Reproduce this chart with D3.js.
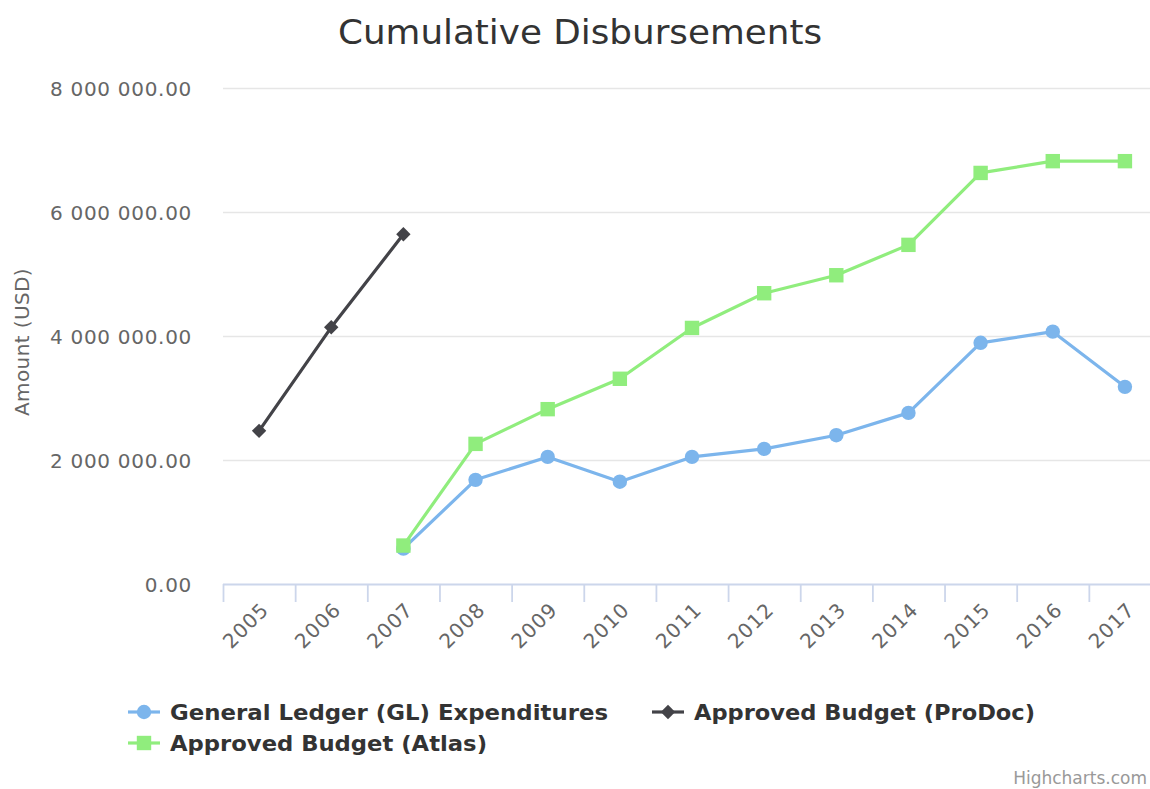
<!DOCTYPE html>
<html>
<head>
<meta charset="utf-8">
<script src="https://cdn.jsdelivr.net/npm/d3@7"></script>
<style>
  html, body { margin: 0; padding: 0; background: #fff; }
  svg { display: block; }
  text { font-family: "DejaVu Sans", Verdana, sans-serif; }
</style>
</head>
<body>
<svg id="chart" width="1150" height="789"></svg>
<script>
// ---- Data ----
const categories = ["2005","2006","2007","2008","2009","2010","2011","2012","2013","2014","2015","2016","2017"];
const glExpenditures = [null, null, 570000, 1680000, 2050000, 1650000, 2050000, 2180000, 2400000, 2760000, 3890000, 4070000, 3180000];
const budgetProDoc   = [2470000, 4140000, 5640000, null, null, null, null, null, null, null, null, null, null];
const budgetAtlas    = [null, null, 620000, 2260000, 2820000, 3310000, 4130000, 4690000, 4980000, 5470000, 6630000, 6820000, 6820000];
const yTickValues = [0, 2000000, 4000000, 6000000, 8000000];
const yTickLabels = ["0.00", "2 000 000.00", "4 000 000.00", "6 000 000.00", "8 000 000.00"];
const seriesNames = ["General Ledger (GL) Expenditures", "Approved Budget (ProDoc)", "Approved Budget (Atlas)"];
const titleText = "Cumulative Disbursements";
const yAxisTitle = "Amount (USD)";
const creditsText = "Highcharts.com";

// ---- Layout ----
const svg = d3.select("#chart");
const plot = { left: 223, right: 1161, top: 88, bottom: 584 };

const x = d3.scaleBand().domain(categories).range([plot.left, plot.right]).paddingInner(0).paddingOuter(0);
const y = d3.scaleLinear().domain([0, 8000000]).range([plot.bottom, plot.top]);
const cx = c => x(c) + x.bandwidth() / 2;

// Title
svg.append("text")
  .attr("x", 580).attr("y", 44)
  .attr("text-anchor", "middle")
  .attr("fill", "#333333")
  .style("font-size", "33px")
  .attr("textLength", 484).attr("lengthAdjust", "spacingAndGlyphs")
  .text(titleText);

// Gridlines
svg.append("g").selectAll("line").data(yTickValues.filter(v => v > 0)).join("line")
  .attr("x1", plot.left).attr("x2", plot.right)
  .attr("y1", d => y(d) + 0.5).attr("y2", d => y(d) + 0.5)
  .attr("stroke", "#e6e6e6").attr("stroke-width", 1.5);

// Y axis labels via d3 axis
const yAxis = d3.axisLeft(y).tickValues(yTickValues)
  .tickFormat((d, i) => yTickLabels[i]).tickSize(0).tickPadding(0);
const yg = svg.append("g").attr("transform", `translate(192,0)`).call(yAxis);
yg.select(".domain").remove();
yg.selectAll("text").attr("fill", "#666666").style("font-size", "20px")
  .style("letter-spacing", "0.7px")
  .attr("font-family", "DejaVu Sans").attr("dy", "0.35em");

// Y axis title
svg.append("text")
  .attr("transform", `translate(29,${(plot.top + plot.bottom) / 2 + 6}) rotate(-90)`)
  .attr("text-anchor", "middle")
  .attr("fill", "#666666")
  .style("font-size", "20px")
  .style("letter-spacing", "0.4px")
  .text(yAxisTitle);

// X axis
const xg = svg.append("g");
xg.append("line")
  .attr("x1", plot.left).attr("x2", plot.right)
  .attr("y1", plot.bottom + 0.5).attr("y2", plot.bottom + 0.5)
  .attr("stroke", "#ccd6eb").attr("stroke-width", 1.8);
const tickPositions = categories.map(c => x(c)).concat([plot.right]);
xg.selectAll("line.tick").data(tickPositions).join("line")
  .attr("class", "tick")
  .attr("x1", d => d + 0.5).attr("x2", d => d + 0.5)
  .attr("y1", plot.bottom).attr("y2", plot.bottom + 18)
  .attr("stroke", "#ccd6eb").attr("stroke-width", 1.8);
xg.selectAll("text").data(categories).join("text")
  .attr("transform", d => `translate(${cx(d) + 6},${plot.bottom + 22}) rotate(-45)`)
  .attr("text-anchor", "end")
  .attr("dy", "0.35em")
  .attr("fill", "#666666")
  .style("font-size", "20px")
  .style("letter-spacing", "1px")
  .text(d => d);

// Series
const colors = ["#7cb5ec", "#434348", "#90ed7d"];
const seriesData = [glExpenditures, budgetProDoc, budgetAtlas];
const markerTypes = ["circle", "diamond", "square"];

function drawMarker(g, type, px, py, color) {
  if (type === "circle") {
    g.append("circle").attr("cx", px).attr("cy", py).attr("r", 7.2).attr("fill", color);
  } else if (type === "square") {
    g.append("rect").attr("x", px - 7.2).attr("y", py - 7.2).attr("width", 14.4).attr("height", 14.4).attr("fill", color);
  } else {
    const r = 7.2;
    g.append("path").attr("d", `M${px},${py - r}L${px + r},${py}L${px},${py + r}L${px - r},${py}Z`).attr("fill", color);
  }
}

const line = d3.line().defined(d => d.v !== null).x(d => cx(d.c)).y(d => y(d.v));
seriesData.forEach((vals, si) => {
  const pts = categories.map((c, i) => ({ c, v: vals[i] }));
  const g = svg.append("g");
  g.append("path").datum(pts)
    .attr("d", line)
    .attr("fill", "none")
    .attr("stroke", colors[si])
    .attr("stroke-width", 3.2)
    .attr("stroke-linejoin", "round").attr("stroke-linecap", "round");
  pts.filter(p => p.v !== null).forEach(p => drawMarker(g, markerTypes[si], cx(p.c), y(p.v), colors[si]));
});

// Legend
const legendItems = [
  { si: 0, x: 128, y: 712, w: 438 },
  { si: 1, x: 652, y: 712, w: 341 },
  { si: 2, x: 128, y: 743, w: 317 }
];
const lg = svg.append("g");
legendItems.forEach(it => {
  const g = lg.append("g");
  g.append("line").attr("x1", it.x).attr("x2", it.x + 32)
    .attr("y1", it.y).attr("y2", it.y)
    .attr("stroke", colors[it.si]).attr("stroke-width", 3.2);
  drawMarker(g, markerTypes[it.si], it.x + 16, it.y, colors[it.si]);
  g.append("text")
    .attr("x", it.x + 42).attr("y", it.y + 8)
    .attr("fill", "#333333")
    .style("font-size", "22px").style("font-weight", "bold")
    .attr("textLength", it.w).attr("lengthAdjust", "spacingAndGlyphs")
    .text(seriesNames[it.si]);
});

// Credits
svg.append("text")
  .attr("x", 1147).attr("y", 784)
  .attr("text-anchor", "end")
  .attr("fill", "#999999")
  .style("font-size", "17px")
  .text(creditsText);
</script>
</body>
</html>
